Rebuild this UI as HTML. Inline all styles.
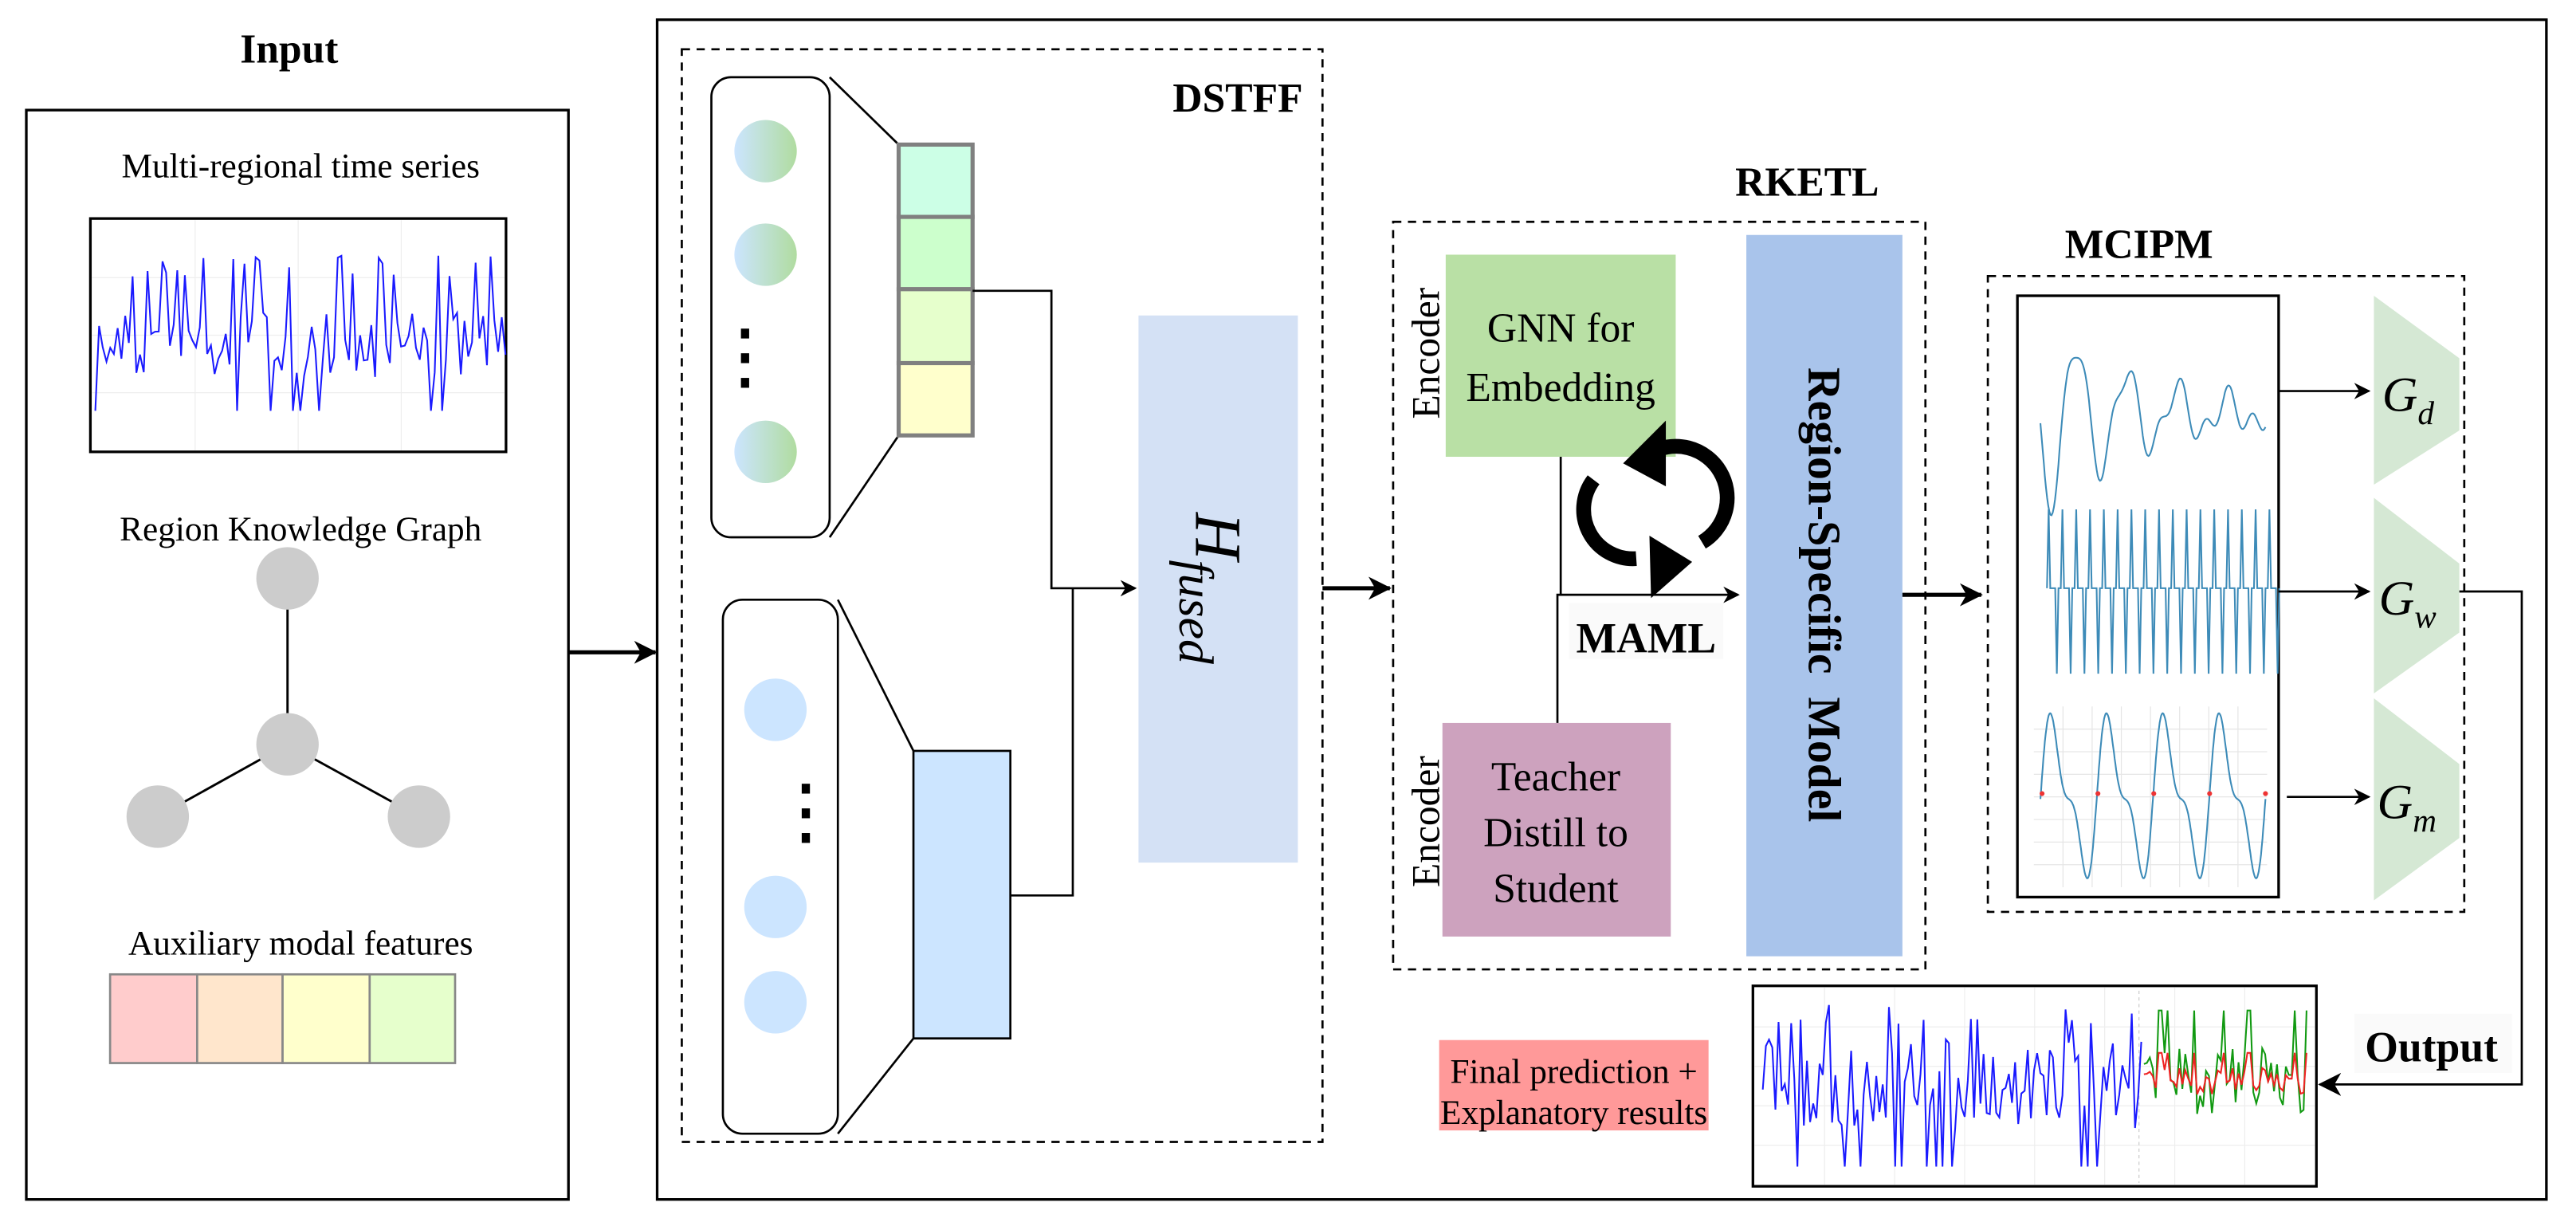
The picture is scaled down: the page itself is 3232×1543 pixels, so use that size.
<!DOCTYPE html>
<html><head><meta charset="utf-8"><style>
html,body{margin:0;padding:0;background:#fff}
svg{display:block;font-family:"Times New Roman","Liberation Serif","DejaVu Serif",serif}
svg text{font-family:"Times New Roman","Liberation Serif","DejaVu Serif",serif}
</style></head><body>
<svg id="s" width="3232" height="1543" viewBox="0 0 1568 748.6" xmlns="http://www.w3.org/2000/svg">
<defs>
<marker id="a" markerWidth="10" markerHeight="10" refX="9" refY="5" orient="auto" markerUnits="userSpaceOnUse"><path d="M0,0 L10,5 L0,10 L3,5 Z" fill="#000"/></marker>
<marker id="b" markerWidth="14" markerHeight="14" refX="13" refY="7" orient="auto" markerUnits="userSpaceOnUse"><path d="M0,0 L14,7 L0,14 L4,7 Z" fill="#000"/></marker>
<linearGradient id="g1" x1="0" x2="1"><stop offset="0" stop-color="#cce5ff"/><stop offset="1" stop-color="#b0dca0"/></linearGradient>
</defs>
<rect width="1568" height="748.6" fill="#fff"/>
<text x="176" y="38" font-size="25" font-weight="bold" text-anchor="middle">Input</text>
<rect x="16" y="67" width="330" height="663" fill="none" stroke="#000" stroke-width="1.6"/>
<text x="183" y="108" font-size="21" text-anchor="middle">Multi-regional time series</text>
<rect x="55" y="133" width="253" height="142" fill="#fff" stroke="#000" stroke-width="1.6"/>
<g stroke="#eee" stroke-width="0.6" id="grid1"></g>
<polyline id="ts1" fill="none" stroke="#1a1aff" stroke-width="1"/>
<text x="183" y="329" font-size="21" text-anchor="middle">Region Knowledge Graph</text>
<g stroke="#000" stroke-width="1.4"><line x1="175" y1="352" x2="175" y2="453"/><line x1="175" y1="453" x2="96" y2="497"/><line x1="175" y1="453" x2="255" y2="497"/></g>
<g fill="#cccccc"><circle cx="175" cy="352" r="19"/><circle cx="175" cy="453" r="19"/><circle cx="96" cy="497" r="19"/><circle cx="255" cy="497" r="19"/></g>
<text x="183" y="581" font-size="21" text-anchor="middle">Auxiliary modal features</text>
<g stroke="#888" stroke-width="1.3"><rect x="67" y="593" width="53" height="54" fill="#ffcccc"/><rect x="120" y="593" width="52" height="54" fill="#ffe6cc"/><rect x="172" y="593" width="53" height="54" fill="#ffffcc"/><rect x="225" y="593" width="52" height="54" fill="#e6ffcc"/></g>
<line x1="346" y1="397" x2="399" y2="397" stroke="#000" stroke-width="2.5" marker-end="url(#b)"/>
<rect x="400" y="12" width="1150" height="718" fill="none" stroke="#000" stroke-width="1.6"/>
<rect x="415" y="30" width="390" height="665" fill="none" stroke="#000" stroke-width="1.3" stroke-dasharray="5,4"/>
<text x="793" y="68" font-size="25" font-weight="bold" text-anchor="end">DSTFF</text>
<rect x="433" y="47" width="72" height="280" rx="12" fill="#fff" stroke="#000" stroke-width="1.3"/>
<g fill="url(#g1)"><circle cx="466" cy="92" r="19"/><circle cx="466" cy="155" r="19"/><circle cx="466" cy="275" r="19"/></g>
<g fill="#000"><rect x="451" y="200" width="5" height="6"/><rect x="451" y="215" width="5" height="6"/><rect x="451" y="230" width="5" height="6"/></g>
<line x1="505" y1="47" x2="547" y2="88" stroke="#000" stroke-width="1.3"/><line x1="505" y1="327" x2="547" y2="265" stroke="#000" stroke-width="1.3"/>
<g stroke="#808080" stroke-width="2.5"><rect x="547" y="88" width="45" height="44" fill="#ccffe6"/><rect x="547" y="132" width="45" height="44" fill="#ccffcc"/><rect x="547" y="176" width="45" height="45" fill="#e6ffcc"/><rect x="547" y="221" width="45" height="44" fill="#ffffcc"/></g>
<polyline points="592,177 640,177 640,358 691,358" fill="none" stroke="#000" stroke-width="1.3" marker-end="url(#a)"/>
<rect x="440" y="365" width="70" height="325" rx="12" fill="#fff" stroke="#000" stroke-width="1.3"/>
<g fill="#cce5ff"><circle cx="472" cy="432" r="19"/><circle cx="472" cy="552" r="19"/><circle cx="472" cy="610" r="19"/></g>
<g fill="#000"><rect x="488" y="477" width="5" height="6"/><rect x="488" y="492" width="5" height="6"/><rect x="488" y="507" width="5" height="6"/></g>
<line x1="510" y1="365" x2="556" y2="457" stroke="#000" stroke-width="1.3"/><line x1="510" y1="690" x2="556" y2="632" stroke="#000" stroke-width="1.3"/>
<rect x="556" y="457" width="59" height="175" fill="#cce5ff" stroke="#000" stroke-width="1.3"/>
<polyline points="615,545 653,545 653,358" fill="none" stroke="#000" stroke-width="1.3"/>
<rect x="693" y="192" width="97" height="333" fill="#d4e1f5"/>
<text transform="translate(728,358) rotate(90)" font-size="40" font-style="italic" text-anchor="middle">H<tspan font-size="30" dy="10">fused</tspan></text>
<line x1="805" y1="358" x2="846" y2="358" stroke="#000" stroke-width="2.5" marker-end="url(#b)"/>
<text x="1100" y="119" font-size="25" font-weight="bold" text-anchor="middle">RKETL</text>
<rect x="848" y="135" width="324" height="455" fill="none" stroke="#000" stroke-width="1.3" stroke-dasharray="5,4"/>
<rect x="880" y="155" width="140" height="123" fill="#b9e0a5"/>
<text x="950" y="208" font-size="25" text-anchor="middle">GNN for</text>
<text x="950" y="244" font-size="25" text-anchor="middle">Embedding</text>
<text transform="translate(876,215) rotate(-90)" font-size="24" text-anchor="middle">Encoder</text>
<rect x="878" y="440" width="139" height="130" fill="#cda2be"/>
<text x="947" y="481" font-size="25" text-anchor="middle">Teacher</text>
<text x="947" y="515" font-size="25" text-anchor="middle">Distill to</text>
<text x="947" y="549" font-size="25" text-anchor="middle">Student</text>
<text transform="translate(876,500) rotate(-90)" font-size="24" text-anchor="middle">Encoder</text>
<rect x="1063" y="143" width="95" height="439" fill="#a9c4eb"/>
<text transform="translate(1101,362) rotate(90)" font-size="28" font-weight="bold" text-anchor="middle" xml:space="preserve">Region-Specific  Model</text>
<polyline points="950,278 950,362" fill="none" stroke="#000" stroke-width="1.3"/>
<polyline points="948,440 948,362 1058,362" fill="none" stroke="#000" stroke-width="1.3" marker-end="url(#a)"/>
<rect x="955" y="367" width="94" height="34" fill="#fafafa"/>
<text x="1002" y="397" font-size="26" font-weight="bold" text-anchor="middle">MAML</text>
<g fill="none" stroke="#000" stroke-width="9">
<path d="M1004,276 A30,30 0 0 1 1036,330"/>
<path d="M996,340 A30,30 0 0 1 970,292"/>
</g>
<path d="M1014,256 L988,282 L1014,296 Z" fill="#000"/>
<path d="M1004,326 L1030,342 L1005,364 Z" fill="#000"/>
<line x1="1158" y1="362" x2="1206" y2="362" stroke="#000" stroke-width="2.5" marker-end="url(#b)"/>
<text x="1302" y="157" font-size="25" font-weight="bold" text-anchor="middle">MCIPM</text>
<rect x="1210" y="168" width="290" height="387" fill="none" stroke="#000" stroke-width="1.3" stroke-dasharray="5,4"/>
<rect x="1228" y="180" width="159" height="366" fill="#fff" stroke="#000" stroke-width="1.6"/>
<g id="grid3" stroke="#e6e6e6" stroke-width="0.6"></g>
<polyline id="w1" fill="none" stroke="#3d8bb8" stroke-width="1"/>
<polyline id="w2" fill="none" stroke="#3d8bb8" stroke-width="1"/>
<polyline id="w3" fill="none" stroke="#3d8bb8" stroke-width="1"/>
<g id="dots3" fill="#e33"></g>
<g fill="#d5e8d4"><path d="M1445,180 L1497,218 L1497,262 L1445,295 Z"/><path d="M1445,303 L1497,343 L1497,385 L1445,422 Z"/><path d="M1445,425 L1497,465 L1497,510 L1445,548 Z"/></g>
<text x="1450" y="250" font-size="30" font-style="italic">G<tspan font-size="20" dy="8">d</tspan></text>
<text x="1448" y="374" font-size="30" font-style="italic">G<tspan font-size="20" dy="8">w</tspan></text>
<text x="1447" y="498" font-size="30" font-style="italic">G<tspan font-size="20" dy="8">m</tspan></text>
<line x1="1387" y1="238" x2="1442" y2="238" stroke="#000" stroke-width="1.3" marker-end="url(#a)"/>
<line x1="1387" y1="360" x2="1442" y2="360" stroke="#000" stroke-width="1.3" marker-end="url(#a)"/>
<line x1="1392" y1="485" x2="1442" y2="485" stroke="#000" stroke-width="1.3" marker-end="url(#a)"/>
<polyline points="1497,360 1535,360 1535,660 1412,660" fill="none" stroke="#000" stroke-width="1.3" marker-end="url(#b)"/>
<rect x="1433" y="617" width="96" height="36" fill="#fafafa"/>
<text x="1480" y="646" font-size="26" font-weight="bold" text-anchor="middle">Output</text>
<rect x="1067" y="600" width="343" height="122" fill="#fff" stroke="#000" stroke-width="1.6"/>
<g id="grid4" stroke="#eee" stroke-width="0.6"></g>
<line x1="1302" y1="603" x2="1302" y2="720" stroke="#ccc" stroke-width="0.6" stroke-dasharray="2,2"/>
<polyline id="o1" fill="none" stroke="#1a1aff" stroke-width="1"/>
<polyline id="o2" fill="none" stroke="#119911" stroke-width="1"/>
<polyline id="o3" fill="none" stroke="#e22" stroke-width="1"/>
<rect x="876" y="633" width="164" height="55" fill="#ff9999"/>
<text x="958" y="659" font-size="21" text-anchor="middle">Final prediction +</text>
<text x="958" y="684" font-size="21" text-anchor="middle">Explanatory results</text>
</svg>
<script>
var seed=7;function r(){seed=(seed*16807)%2147483647;return seed/2147483647;}
function set(id,p){document.getElementById(id).setAttribute('points',p.map(function(q){return q[0].toFixed(1)+','+q[1].toFixed(1)}).join(' '));}
function gl(id,x0,y0,x1,y1,nx,ny){var g=document.getElementById(id),h='';for(var i=1;i<nx;i++){var x=x0+(x1-x0)*i/nx;h+='<line x1="'+x+'" y1="'+y0+'" x2="'+x+'" y2="'+y1+'"/>';}for(var j=1;j<ny;j++){var y=y0+(y1-y0)*j/ny;h+='<line x1="'+x0+'" y1="'+y+'" x2="'+x1+'" y2="'+y+'"/>';}g.innerHTML=h;}
gl('grid1',56,134,307,274,4,4);gl('grid4',1068,601,1409,721,8,5);gl('grid3',1238,430,1380,540,8,8);
var p=[];for(var i=0;i<=110;i++){var v=r();var y=210+ (r()-0.5)*40; if(v>0.85)y=170-r()*15; if(v<0.08)y=250; p.push([58+i*2.27,y]);}set('ts1',p);
p=[];for(i=0;i<=200;i++){var t=i/200;var x=1242+t*137;var y=252-60*Math.exp(-2.2*t)*Math.cos(t*28+1.8)-8*Math.cos(t*60);p.push([x,y]);}set('w1',p);
p=[];for(i=0;i<=16;i++){var x=1246+i*8.4;p.push([x,358],[x+1,310],[x+2,358],[x+5,358],[x+6,410],[x+7,358]);}set('w2',p);
p=[];for(i=0;i<=300;i++){var t=i/300;var x=1242+t*137;var y=485-40*Math.sin(t*Math.PI*8)+18*Math.cos(t*Math.PI*16+1.5);p.push([x,y]);}set('w3',p);
var d='';for(i=0;i<5;i++)d+='<circle cx="'+(1243+i*34)+'" cy="483" r="1.5"/>';document.getElementById('dots3').innerHTML=d;
p=[];for(i=0;i<=120;i++){var y=660+(r()-0.5)*55;if(r()>0.85)y=610+r()*15;if(r()<0.08)y=710;p.push([1073+i*1.92,y]);}set('o1',p);
var q=[],s=[];for(i=0;i<=55;i++){var x=1305+i*1.8;var y=658+(r()-0.5)*40;if(r()>0.85)y=615;q.push([x,y]);s.push([x,658+(y-658)*0.4]);}set('o2',q);set('o3',s);
</script>
</body></html>
